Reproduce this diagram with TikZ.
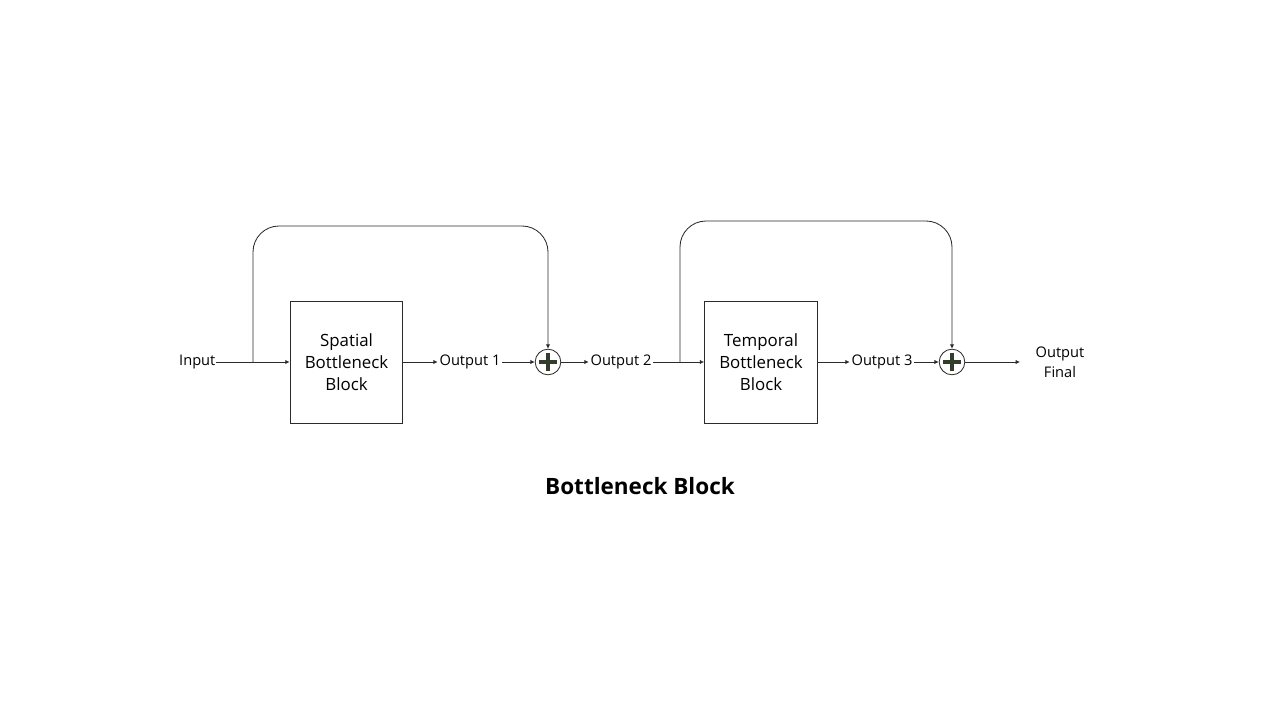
\documentclass[tikz,border=0pt]{standalone}
\usepackage{fontspec}
\setmainfont{Open Sans}
\usepackage{tikz}
\usetikzlibrary{arrows.meta,positioning,calc}
\definecolor{Ink}{HTML}{2B2B2B}
\definecolor{PlusInk}{HTML}{333D2C}
\tikzset{
blockbox/.style={draw=Ink, line width=0.6pt, minimum width=28.2mm, minimum height=30.5mm, align=center, inner sep=0pt, font=\fontsize{12}{15.6}\selectfont},
sumnode/.style={draw=Ink, line width=0.6pt, circle, minimum size=6.4mm, inner sep=0pt,
  path picture={\draw[PlusInk, line width=2.2pt] ($(path picture bounding box.center)+(-2.3mm,0)$) -- ($(path picture bounding box.center)+(2.3mm,0)$)
    ($(path picture bounding box.center)+(0,-2.3mm)$) -- ($(path picture bounding box.center)+(0,2.3mm)$);}},
flowlabel/.style={inner sep=0.4mm, font=\fontsize{10.4}{14.2}\selectfont, align=center, anchor=center},
flowarrow/.style={-{Latex[length=1.1mm, width=1.1mm]}, line width=0.6pt, draw=Ink},
skiparrow/.style={-{Latex[length=1.1mm, width=1.1mm]}, line width=0.6pt, draw=Ink, rounded corners=6.5mm}
}
\begin{document}
\begin{tikzpicture}[x=0.025cm, y=-0.025cm]
  \useasboundingbox (0,0) rectangle (1280,720);
  % main row
  \node[blockbox] (spatial) at (346.5,362) {Spatial\\Bottleneck\\Block};
  \node[flowlabel, inner sep=0pt, left=1.85cm of spatial.west] (input) {Input};
  \node[flowlabel] (out1) at (470,362) {Output 1};
  \node[sumnode] (sum1) at (548,362) {};
  \node[flowlabel] (out2) at (621,362) {Output 2};
  \node[blockbox] (temporal) at (761,362) {Temporal\\Bottleneck\\Block};
  \node[flowlabel] (out3) at (882,362) {Output 3};
  \node[sumnode] (sum2) at (952,362) {};
  \node[flowlabel] (final) at (1060,362) {Output\\Final};
  \node[font=\bfseries\fontsize{16}{18}\selectfont] (title) at (640,486) {Bottleneck Block};
  % branch points, skip tops, loose end
  \coordinate (split1) at (253,362);
  \coordinate (top1) at (548,226);
  \coordinate (split2) at (680,362);
  \coordinate (top2) at (952,221);
  \coordinate (finalend) at (1020,362);
  \draw[flowarrow] (input.east) -- (spatial.west);
  \draw[flowarrow] (spatial.east) -- (out1.west);
  \draw[flowarrow] (out1.east) -- (sum1.west);
  \draw[flowarrow] (sum1.east) -- (out2.west);
  \draw[flowarrow] (out2.east) -- (temporal.west);
  \draw[flowarrow] (temporal.east) -- (out3.west);
  \draw[flowarrow] (out3.east) -- (sum2.west);
  \draw[flowarrow] (sum2.east) -- (finalend);
  \draw[skiparrow] (split1) |- (top1) -- (sum1.north);
  \draw[skiparrow] (split2) |- (top2) -- (sum2.north);
\end{tikzpicture}
\end{document}
